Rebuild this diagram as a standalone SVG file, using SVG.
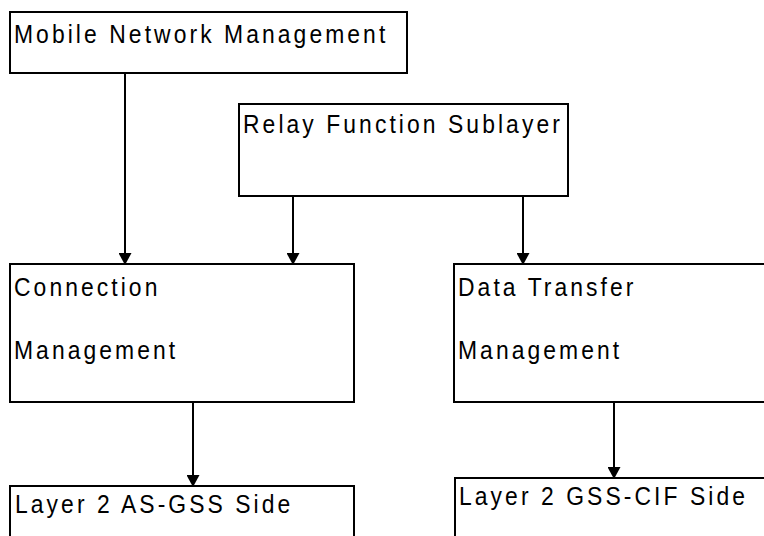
<svg xmlns="http://www.w3.org/2000/svg" width="764" height="536" viewBox="0 0 764 536">
<style>
.box{fill:#fff;stroke:#000;stroke-width:2}
.lbl{font-family:"Liberation Sans",Arial,sans-serif;font-size:26px;letter-spacing:3.5px;fill:#000}
.con{stroke:#000;stroke-width:2;fill:none}
</style>
<defs>
<marker id="ah" markerUnits="userSpaceOnUse" markerWidth="12" markerHeight="13" viewBox="0 0 12 13" refX="11" refY="6.5" orient="auto">
<path d="M0,0 L12,6.5 L0,13 Z" fill="#000"/>
</marker>
</defs>
<rect width="764" height="536" fill="#fff"/>
<g id="n1"><rect class="box" x="10" y="12" width="397" height="61"/><text class="lbl" transform="translate(14,43) scale(0.88,1)">Mobile Network Management</text></g>
<g id="n2"><rect class="box" x="239" y="104" width="329" height="92"/><text class="lbl" transform="translate(243,133) scale(0.88,1)">Relay Function Sublayer</text></g>
<g id="n3"><rect class="box" x="10" y="264" width="344" height="138"/><text class="lbl" transform="translate(14,296) scale(0.88,1)">Connection</text><text class="lbl" transform="translate(14,359) scale(0.88,1)">Management</text></g>
<g id="n4"><rect class="box" x="454" y="264" width="320" height="138"/><text class="lbl" transform="translate(458,296) scale(0.88,1)">Data Transfer</text><text class="lbl" transform="translate(458,359) scale(0.88,1)">Management</text></g>
<g id="n5"><rect class="box" x="10" y="486" width="344" height="60"/><text class="lbl" transform="translate(15,513) scale(0.88,1)">Layer 2 AS-GSS Side</text></g>
<g id="n6"><rect class="box" x="455" y="478" width="320" height="68"/><text class="lbl" transform="translate(459,505) scale(0.88,1)">Layer 2 GSS-CIF Side</text></g>
<g id="connectors">
<line class="con" x1="125" y1="73" x2="125" y2="264" marker-end="url(#ah)"/>
<line class="con" x1="293" y1="196" x2="293" y2="264" marker-end="url(#ah)"/>
<line class="con" x1="523" y1="196" x2="523" y2="264" marker-end="url(#ah)"/>
<line class="con" x1="193" y1="402" x2="193" y2="486" marker-end="url(#ah)"/>
<line class="con" x1="614" y1="402" x2="614" y2="478" marker-end="url(#ah)"/>
</g>
</svg>
